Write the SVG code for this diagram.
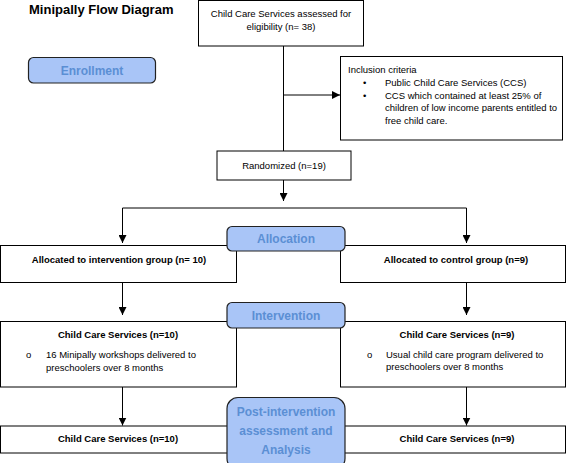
<svg xmlns="http://www.w3.org/2000/svg" width="567" height="463" viewBox="0 0 567 463">
<defs>
<style>
.box{fill:#fff;stroke:#000;stroke-width:1}
.pill{fill:#a9c5f7;stroke:#222;stroke-width:1.2}
.pt{font-family:"Liberation Sans",Arial,sans-serif;font-weight:bold;font-size:12px;fill:#5b8fd4;text-anchor:middle}
.t{font-family:"Liberation Sans",Arial,sans-serif;font-size:9.5px;fill:#000}
.b{font-family:"Liberation Sans",Arial,sans-serif;font-size:9.5px;font-weight:bold;fill:#000}
.c{text-anchor:middle}
.ln{fill:none;stroke:#000;stroke-width:1}
.ar{marker-end:url(#ah)}
</style>
<marker id="ah" viewBox="0 0 10 10" refX="10" refY="5" markerWidth="8" markerHeight="8" markerUnits="userSpaceOnUse" orient="auto">
<path d="M0,0 L10,5 L0,10 z" fill="#000"/>
</marker>
</defs>
<rect width="567" height="463" fill="#fff"/>
<text x="29" y="14" font-family="'Liberation Sans',Arial,sans-serif" font-weight="bold" font-size="13" fill="#000">Minipally Flow Diagram</text>

<g id="connectors">
<path class="ln" d="M283.5,46 V151"/>
<path class="ln ar" d="M283.5,95 H340"/>
<path class="ln ar" d="M283.5,180 V201"/>
<path class="ln" d="M122.5,208 H466.5"/>
<path class="ln ar" d="M122.5,208 V243"/>
<path class="ln ar" d="M466.5,208 V243"/>
<path class="ln ar" d="M122.5,282 V315"/>
<path class="ln ar" d="M466.5,282 V315"/>
<path class="ln ar" d="M122.5,387 V425.5"/>
<path class="ln ar" d="M466.5,387 V425.5"/>
</g>

<g id="assessed">
<rect class="box" x="198.5" y="0.5" width="165" height="45.5"/>
<text class="t c" x="281" y="17">Child Care Services assessed for</text>
<text class="t c" x="281" y="29.5">eligibility (n= 38)</text>
</g>

<g id="enrollment">
<rect class="pill" x="28.5" y="57.5" width="127" height="25.5" rx="5"/>
<text class="pt" x="92" y="74.5">Enrollment</text>
</g>

<g id="inclusion">
<rect class="box" x="340.5" y="56.5" width="222" height="83.5"/>
<text class="t" x="348" y="73">Inclusion criteria</text>
<text class="t" x="363" y="86">•</text>
<text class="t" x="385" y="86">Public Child Care Services (CCS)</text>
<text class="t" x="363" y="98.5">•</text>
<text class="t" x="385" y="98.5">CCS which contained at least 25% of</text>
<text class="t" x="385" y="111">children of low income parents entitled to</text>
<text class="t" x="385" y="123.5">free child care.</text>
</g>

<g id="randomized">
<rect class="box" x="217" y="151" width="134" height="29"/>
<text class="t c" x="284" y="169">Randomized (n=19)</text>
</g>

<g id="alloc-intervention">
<rect class="box" x="0.5" y="245.5" width="236" height="37"/>
<text class="b c" x="119" y="263">Allocated to intervention group (n= 10)</text>
</g>
<g id="alloc-control">
<rect class="box" x="340.5" y="245.5" width="225" height="37"/>
<text class="b c" x="456" y="263">Allocated to control group (n=9)</text>
</g>
<g id="allocation">
<rect class="pill" x="227" y="226.5" width="118" height="24.5" rx="5"/>
<text class="pt" x="286" y="243">Allocation</text>
</g>

<g id="int-intervention">
<rect class="box" x="0.5" y="321.5" width="236" height="65.5"/>
<text class="b c" x="118" y="337.5">Child Care Services (n=10)</text>
<text class="t" x="26" y="358" font-size="8">o</text>
<text class="t" x="46" y="358">16 Minipally workshops delivered to</text>
<text class="t" x="46" y="370.5">preschoolers over 8 months</text>
</g>
<g id="int-control">
<rect class="box" x="340.5" y="321.5" width="225" height="65.5"/>
<text class="b c" x="457" y="337.5">Child Care Services (n=9)</text>
<text class="t" x="367" y="358" font-size="8">o</text>
<text class="t" x="386" y="358">Usual child care program delivered to</text>
<text class="t" x="386" y="370">preschoolers over 8 months</text>
</g>
<g id="intervention">
<rect class="pill" x="227" y="302.5" width="118" height="25.5" rx="5"/>
<text class="pt" x="286" y="320">Intervention</text>
</g>

<g id="post-intervention-box">
<rect class="box" x="0.5" y="426" width="236" height="27"/>
<text class="b c" x="118" y="442">Child Care Services (n=10)</text>
</g>
<g id="post-control-box">
<rect class="box" x="340.5" y="426" width="225" height="27"/>
<text class="b c" x="457" y="442">Child Care Services (n=9)</text>
</g>
<g id="post-intervention">
<rect class="pill" x="227" y="397.5" width="118" height="72" rx="11"/>
<text class="pt" x="286" y="416">Post-intervention</text>
<text class="pt" x="286" y="435">assessment and</text>
<text class="pt" x="286" y="454">Analysis</text>
</g>
</svg>
